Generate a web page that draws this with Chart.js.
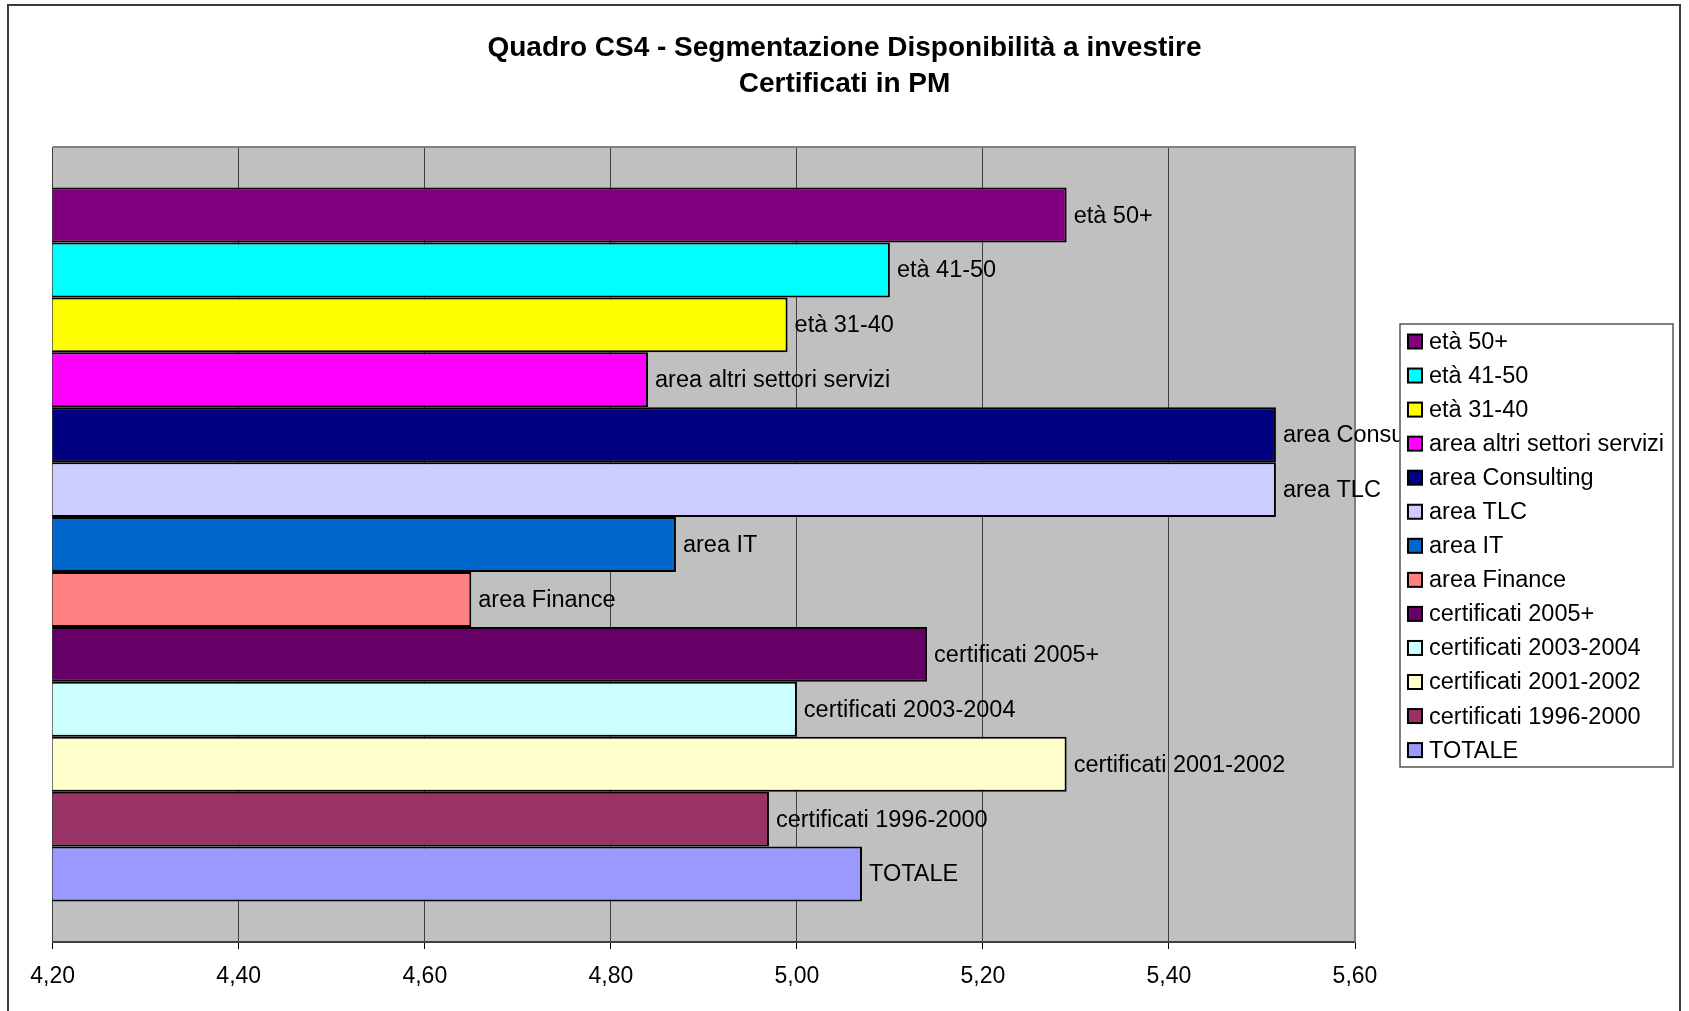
<!DOCTYPE html>
<html>
<head>
<meta charset="utf-8">
<script src="https://cdn.jsdelivr.net/npm/chart.js@4/dist/chart.umd.min.js"></script>
<style>
  html, body { margin: 0; padding: 0; background: #fff; overflow: hidden; }
  canvas { display: block; }
</style>
</head>
<body>
<canvas id="cs4" width="1689" height="1011"></canvas>
<script>
// --- Dati ---
const seriesNames = [
  'età 50+', 'età 41-50', 'età 31-40', 'area altri settori servizi',
  'area Consulting', 'area TLC', 'area IT', 'area Finance',
  'certificati 2005+', 'certificati 2003-2004', 'certificati 2001-2002',
  'certificati 1996-2000', 'TOTALE'
];
const seriesValues = [5.29, 5.10, 4.99, 4.84, 5.515, 5.515, 4.87, 4.65, 5.14, 5.00, 5.29, 4.97, 5.07];
const seriesColors = [
  '#800080', '#00FFFF', '#FFFF00', '#FF00FF',
  '#000080', '#CCCCFF', '#0066CC', '#FF8080',
  '#660066', '#CCFFFF', '#FFFFCC', '#993366', '#9999FF'
];
const xTicks = [4.20, 4.40, 4.60, 4.80, 5.00, 5.20, 5.40, 5.60];
const titleLines = ['Quadro CS4 - Segmentazione Disponibilità a investire', 'Certificati in PM'];

const FONT = '"Liberation Sans", Arial, sans-serif';

function fmtComma(v) {
  return Number(v).toFixed(2).replace('.', ',');
}

// sfondo grigio + bordo dell'area del grafico + cornice esterna
const plotFrame = {
  id: 'plotFrame',
  beforeDraw(chart) {
    const { ctx, chartArea: a } = chart;
    ctx.save();
    ctx.fillStyle = '#C0C0C0';
    ctx.fillRect(a.left, a.top, a.right - a.left, a.bottom - a.top);
    ctx.strokeStyle = '#3a3a3a';
    ctx.lineWidth = 2;
    ctx.strokeRect(8, 5, 1672, 1020);
    ctx.restore();
  },
  beforeDatasetsDraw(chart) {
    const { ctx, chartArea: a } = chart;
    ctx.save();
    ctx.strokeStyle = '#808080';
    ctx.lineWidth = 2;
    ctx.beginPath();
    ctx.moveTo(a.left, a.top);
    ctx.lineTo(a.right, a.top);
    ctx.lineTo(a.right, a.bottom);
    ctx.stroke();
    ctx.restore();
  }
};

// etichette con il nome della serie accanto alla barra
const barLabels = {
  id: 'barLabels',
  afterDatasetsDraw(chart) {
    const { ctx } = chart;
    ctx.save();
    ctx.font = '23.5px ' + FONT;
    ctx.fillStyle = '#000';
    ctx.textBaseline = 'middle';
    ctx.textAlign = 'left';
    chart.data.datasets.forEach((ds, i) => {
      const el = chart.getDatasetMeta(i).data[0];
      ctx.fillText(ds.label, el.x + 7, el.y + 1);
    });
    ctx.restore();
  }
};

// legenda con riquadro, a destra
const boxLegend = {
  id: 'boxLegend',
  afterDraw(chart) {
    const { ctx } = chart;
    const left = 1400, top = 324, w = 273, h = 443, pitch = 34.05;
    ctx.save();
    ctx.fillStyle = '#fff';
    ctx.fillRect(left, top, w, h);
    ctx.strokeStyle = '#555';
    ctx.lineWidth = 1.5;
    ctx.strokeRect(left, top, w, h);
    ctx.font = '23.5px ' + FONT;
    ctx.textBaseline = 'middle';
    chart.data.datasets.forEach((ds, i) => {
      const cy = 341.5 + i * pitch;
      ctx.fillStyle = ds.backgroundColor;
      ctx.fillRect(1408, cy - 7, 14, 14);
      ctx.strokeStyle = '#000';
      ctx.lineWidth = 2;
      ctx.strokeRect(1408, cy - 7, 14, 14);
      ctx.fillStyle = '#000';
      ctx.fillText(ds.label, 1429, cy + 1);
    });
    ctx.restore();
  }
};

const datasets = seriesNames.map((name, i) => ({
  label: name,
  data: [seriesValues[i]],
  backgroundColor: seriesColors[i],
  borderColor: '#000',
  borderWidth: 2,
  borderSkipped: false,
  categoryPercentage: 0.898,
  barPercentage: 1.0,
}));

new Chart(document.getElementById('cs4'), {
  type: 'bar',
  data: { labels: [''], datasets },
  options: {
    indexAxis: 'y',
    responsive: false,
    animation: false,
    layout: { padding: 0 },
    plugins: {
      legend: { display: false },
      tooltip: { enabled: false },
      title: {
        display: true,
        text: titleLines,
        color: '#000',
        font: { family: FONT, size: 28, weight: 'bold', lineHeight: 1.27 },
        padding: { top: 30.7, bottom: 45.2 },
      },
    },
    scales: {
      x: {
        type: 'linear',
        min: xTicks[0],
        max: xTicks[xTicks.length - 1],
        afterBuildTicks(scale) { scale.ticks = xTicks.map(v => ({ value: v })); },
        afterFit(scale) { scale.height = 69; },
        ticks: {
          color: '#000',
          padding: 14,
          maxRotation: 0,
          font: { family: FONT, size: 23 },
          callback: v => fmtComma(v),
        },
        grid: { color: '#404040', lineWidth: 1, drawTicks: true, tickLength: 7, tickColor: '#000' },
        border: { display: true, color: '#404040', width: 2 },
      },
      y: {
        type: 'category',
        position: 'left',
        afterFit(scale) { scale.width = 52.7; },
        ticks: { display: false },
        grid: { display: false },
        border: { display: false },
      },
      // spazio a destra riservato alla legenda
      yRight: {
        type: 'category',
        position: 'right',
        afterFit(scale) { scale.width = 334; },
        ticks: { display: false },
        grid: { display: false },
        border: { display: false },
      },
    },
  },
  plugins: [plotFrame, barLabels, boxLegend],
});
</script>
</body>
</html>
